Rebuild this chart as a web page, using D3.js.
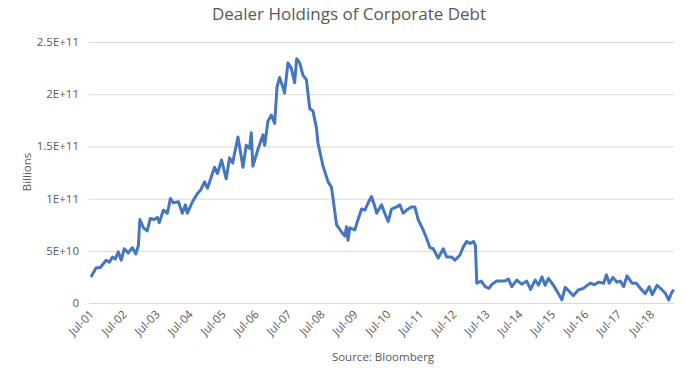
<!DOCTYPE html>
<html lang="en">

<head>
    <meta charset="UTF-8">
    <script src="https://cdnjs.cloudflare.com/ajax/libs/d3/7.8.5/d3.min.js" type="text/JavaScript"></script>
    <title>Dealer Holdings of Corporate Debt</title>
    <style>
        body { margin: 0; background: #fff; }
        text { font-family: "Open Sans", "Noto Sans", sans-serif; fill: #595959; }
    </style>
</head>

<body>
    <svg style="width:697px; height:369px; display:block"></svg>
    <script>

        // weekly-ish readings, values in billions
        var dates = ["2001-06-17", "2001-08-11", "2001-09-28", "2001-12-01", "2002-01-07", "2002-02-10", "2002-03-13", "2002-04-15",
            "2002-05-18", "2002-06-21", "2002-08-04", "2002-09-18", "2002-10-27", "2002-11-24", "2002-12-10", "2003-01-19",
            "2003-03-02", "2003-04-05", "2003-05-19", "2003-06-22", "2003-07-14", "2003-08-28", "2003-10-11", "2003-11-14",
            "2003-12-17", "2004-02-11", "2004-03-25", "2004-04-28", "2004-05-20", "2004-07-15", "2004-09-09", "2004-10-12",
            "2004-11-26", "2004-12-29", "2005-03-16", "2005-04-19", "2005-06-02", "2005-07-24", "2005-08-30", "2005-10-03",
            "2005-12-01", "2006-01-26", "2006-03-03", "2006-04-09", "2006-04-28", "2006-05-15", "2006-07-10", "2006-09-04",
            "2006-09-23", "2006-10-29", "2006-12-06", "2007-01-12", "2007-02-07", "2007-03-07", "2007-04-13", "2007-05-01",
            "2007-06-08", "2007-07-15", "2007-08-21", "2007-09-13", "2007-10-16", "2007-11-22", "2007-12-29", "2008-02-05",
            "2008-03-11", "2008-04-18", "2008-05-06", "2008-07-01", "2008-08-26", "2008-10-02", "2008-10-20", "2008-11-27",
            "2009-01-22", "2009-02-28", "2009-03-17", "2009-04-04", "2009-04-23", "2009-06-17", "2009-07-24", "2009-09-01",
            "2009-10-07", "2009-11-13", "2009-12-20", "2010-01-27", "2010-02-14", "2010-04-10", "2010-05-16", "2010-06-22",
            "2010-07-29", "2010-09-24", "2010-10-30", "2010-12-06", "2011-01-13", "2011-03-08", "2011-04-14", "2011-05-20",
            "2011-07-15", "2011-08-22", "2011-09-28", "2011-11-04", "2011-12-29", "2012-02-23", "2012-03-31", "2012-05-26",
            "2012-07-01", "2012-08-26", "2012-10-02", "2012-11-09", "2012-12-16", "2013-01-22", "2013-02-13", "2013-02-28",
            "2013-04-18", "2013-06-01", "2013-07-13", "2013-08-16", "2013-10-07", "2013-11-25", "2014-01-08", "2014-02-14",
            "2014-03-23", "2014-05-17", "2014-07-11", "2014-09-05", "2014-10-17", "2014-12-07", "2015-01-13", "2015-02-20",
            "2015-03-27", "2015-05-02", "2015-06-27", "2015-08-22", "2015-09-29", "2015-11-05", "2015-12-30", "2016-02-02",
            "2016-03-28", "2016-05-22", "2016-08-09", "2016-09-22", "2016-11-09", "2017-01-04", "2017-02-03", "2017-03-07",
            "2017-04-15", "2017-06-01", "2017-07-07", "2017-08-13", "2017-09-19", "2017-11-14", "2018-01-01", "2018-02-14",
            "2018-04-10", "2018-05-24", "2018-06-27", "2018-08-18", "2018-10-13", "2018-11-19", "2018-12-25", "2019-02-02",
            "2019-02-22"];

        var holdings = [25, 33.5, 34, 41, 39, 44, 42, 49,
            41, 52, 48, 53, 47, 55, 80, 72,
            69, 81, 80, 82, 77, 89, 86, 100,
            96, 97, 86, 94, 86, 97, 105, 108,
            116, 110, 130, 124, 137, 119, 139, 134,
            159, 130, 151, 148, 163, 131, 147, 161,
            151, 174, 180, 172, 207, 216, 207, 201,
            230, 225, 211, 234, 230, 218, 214, 186,
            184, 168, 153, 131, 116, 111, 100, 75,
            68, 64, 73, 60, 72, 70, 80, 90,
            89, 96, 102, 92, 86, 94, 86, 78,
            90, 92, 94, 86, 89, 92, 92, 80,
            70, 62, 53, 52, 43, 52, 44, 44,
            41, 46, 54, 59, 57, 59, 55, 19,
            21, 15.6, 14, 18, 21, 21, 21, 23,
            15.6, 22, 18, 21, 13, 22, 17, 25,
            17, 23.6, 17, 9, 3, 15, 10, 7,
            12.5, 14, 19, 17.5, 20, 19, 27, 19,
            24.5, 20, 21, 15.6, 26, 19, 19, 14,
            9, 15.6, 8, 17, 12.5, 9.3, 3, 11,
            12.5];

        var yTicks = [0, 50, 100, 150, 200, 250];
        var tickYears = d3.range(2001, 2019);

        var parseDate = d3.timeParse("%Y-%m-%d");
        var data = dates.map(function (d, i) {
            return { date: parseDate(d), value: holdings[i] };
        });

        var svg = d3.select("svg");

        var xScale = d3.scaleTime()
            .domain([parseDate("2001-06-17"), parseDate("2019-02-22")])
            .range([91, 674]);
        var yScale = d3.scaleLinear().domain([0, 250]).range([303, 42]);

        // gridlines
        svg.append("g").selectAll("line")
            .data(yTicks)
            .enter()
            .append("line")
            .attr("x1", 89)
            .attr("x2", 674)
            .attr("y1", d => yScale(d) + 0.5)
            .attr("y2", d => yScale(d) + 0.5)
            .style("stroke", "#d9d9d9")
            .style("stroke-width", 1);

        // y labels, Excel style scientific
        svg.append("g").selectAll("text")
            .data(yTicks)
            .enter()
            .append("text")
            .attr("x", 79)
            .attr("y", d => yScale(d) + 4)
            .attr("text-anchor", "end")
            .style("font-size", "11.5px")
            .text(d => d === 0 ? "0" : (d * 1e9).toExponential().replace("e", "E"));

        var xAxis = d3.axisBottom(xScale)
            .tickValues(tickYears.map(y => new Date(y, 6, 1)))
            .tickFormat(d3.timeFormat("Jul-%y"))
            .tickSize(0);

        var xAxisG = svg.append("g")
            .attr("transform", "translate(0,303)")
            .call(xAxis);
        xAxisG.select(".domain").remove();
        xAxisG.selectAll("text")
            .attr("y", 0)
            .attr("dy", 0)
            .attr("transform", "translate(2,12) rotate(-45)")
            .style("text-anchor", "end")
            .style("font-size", "11.5px")
            .style("font-family", "\"Open Sans\", sans-serif")
            .style("fill", "#595959");

        var line = d3.line()
            .x(d => xScale(d.date))
            .y(d => yScale(d.value));

        svg.append("path")
            .datum(data)
            .attr("d", line)
            .style("fill", "none")
            .style("stroke", "#4677be")
            .style("stroke-width", 3)
            .style("stroke-linejoin", "round");

        svg.append("text")
            .attr("x", 349)
            .attr("y", 20)
            .attr("text-anchor", "middle")
            .style("font-size", "17px")
            .text("Dealer Holdings of Corporate Debt");

        svg.append("text")
            .attr("transform", "translate(31,172) rotate(-90)")
            .attr("text-anchor", "middle")
            .style("font-size", "11.5px")
            .text("Billions");

        svg.append("text")
            .attr("x", 383)
            .attr("y", 361)
            .attr("text-anchor", "middle")
            .style("font-size", "11.5px")
            .text("Source: Bloomberg");

    </script>
</body>

</html>
